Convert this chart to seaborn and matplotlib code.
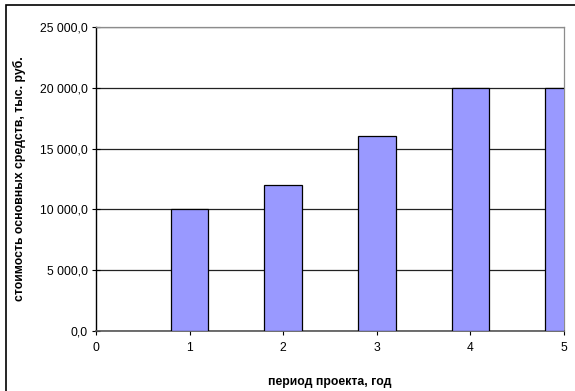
import matplotlib
matplotlib.use("Agg")
import matplotlib.pyplot as plt
import seaborn as sns
import pandas as pd
from matplotlib.ticker import FuncFormatter, MultipleLocator
from matplotlib.patches import Rectangle

# Project periods and fixed-asset cost (thousand roubles)
years = [1, 2, 3, 4, 5]
cost = [10000, 12000, 16000, 20000, 20000]
x_label = "период проекта, год"
y_label = "стоимость основных средств, тыс. руб."

sns.set_theme(style="white")
plt.rcParams["font.family"] = ["Liberation Sans", "DejaVu Sans"]

df = pd.DataFrame({"year": years, "cost": cost})

fig = plt.figure(figsize=(5.75, 3.91), dpi=100)
ax = fig.add_axes([96 / 575, 1 - 331 / 391, (564 - 96) / 575, (331 - 27) / 391])

sns.barplot(data=df, x="year", y="cost", native_scale=True, width=0.4,
            color="#9999FF", saturation=1, edgecolor="black", linewidth=0.9,
            ax=ax, zorder=3)

ax.set_xlim(0, 5)
ax.set_ylim(0, 25000)
ax.xaxis.set_major_locator(MultipleLocator(1))
ax.yaxis.set_major_locator(MultipleLocator(5000))


def ru_fmt(v, pos):
    s = f"{v:,.1f}".replace(",", " ").replace(".", ",")
    return s


ax.yaxis.set_major_formatter(FuncFormatter(ru_fmt))
ax.xaxis.set_major_formatter(FuncFormatter(lambda v, p: f"{int(v)}"))

ax.grid(axis="y", color="#222222", linewidth=0.9, zorder=0)
ax.grid(axis="x", visible=False)
ax.set_axisbelow(True)

for side in ("top", "right"):
    ax.spines[side].set_color("#8c8c8c")
    ax.spines[side].set_linewidth(0.9)
ax.spines["left"].set_color("black")
ax.spines["left"].set_linewidth(1.0)
ax.spines["bottom"].set_color("#555555")
ax.spines["bottom"].set_linewidth(1.2)

ax.tick_params(axis="y", which="major", direction="inout", length=6, width=0.8,
               color="black", labelsize=8.7, pad=3, left=True)
ax.tick_params(axis="x", which="major", direction="out", length=3, width=0.8,
               color="black", labelsize=8.7, pad=5, bottom=True)
for lbl in ax.get_xticklabels() + ax.get_yticklabels():
    lbl.set_color("black")

ax.set_xlabel(x_label, fontsize=8.8, fontweight="bold", color="black", labelpad=16)
ax.set_ylabel(y_label, fontsize=8.8, fontweight="bold", color="black", labelpad=10)

# outer chart border
fig.patches.append(Rectangle((6 / 575, -0.05), 1.2, 1 - 5 / 391 + 0.05,
                             transform=fig.transFigure, fill=False,
                             edgecolor="black", linewidth=1.2))

fig.savefig("out.png", dpi=100)
